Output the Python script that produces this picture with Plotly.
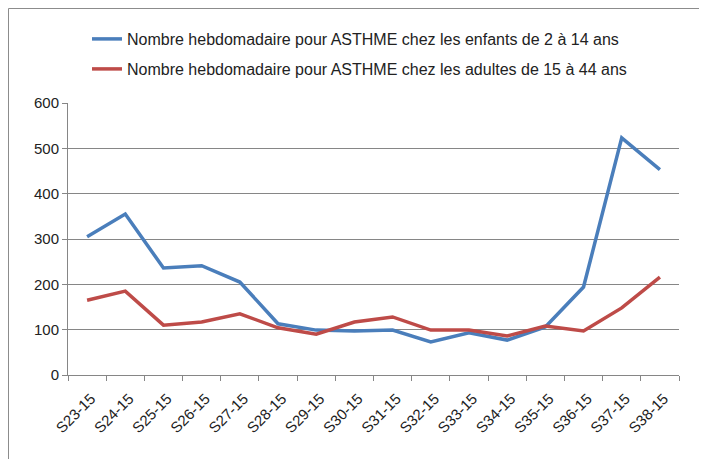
import plotly.graph_objects as go

weeks = ["S23-15", "S24-15", "S25-15", "S26-15", "S27-15", "S28-15", "S29-15", "S30-15",
         "S31-15", "S32-15", "S33-15", "S34-15", "S35-15", "S36-15", "S37-15", "S38-15"]
enfants = [305, 355, 236, 241, 205, 113, 99, 97, 99, 73, 93, 77, 106, 194, 523, 453]
adultes = [165, 185, 110, 117, 135, 104, 90, 117, 128, 99, 99, 86, 108, 97, 148, 216]

name_enfants = "Nombre hebdomadaire pour ASTHME chez les enfants de 2 à 14 ans"
name_adultes = "Nombre hebdomadaire pour ASTHME chez les adultes de 15 à 44 ans"

FONT = "Liberation Sans"
GRID = "#868686"

L, T, W, H = 60, 95, 611, 272
FW, FH = 707, 459

fig = go.Figure()
fig.add_trace(go.Scatter(x=weeks, y=enfants, mode="lines", name=name_enfants,
                         line=dict(color="#4A7EBB", width=3.5), legend="legend"))
fig.add_trace(go.Scatter(x=weeks, y=adultes, mode="lines", name=name_adultes,
                         line=dict(color="#BE4B48", width=3.5), legend="legend2"))

leg_common = dict(xanchor="left", yanchor="middle", bgcolor="rgba(0,0,0,0)",
                  font=dict(family=FONT, size=16, color="#222222"), itemwidth=30)

lx = (79 - L) / W
fig.update_layout(
    width=FW, height=FH,
    margin=dict(l=L, r=FW - L - W, t=T, b=FH - T - H, autoexpand=False),
    paper_bgcolor="white", plot_bgcolor="white",
    showlegend=True,
    legend=dict(x=lx, y=(T + H - 31) / H, **leg_common),
    legend2=dict(x=lx, y=(T + H - 61) / H, **leg_common),
    xaxis=dict(
        type="category", range=[-0.5, 15.5],
        showgrid=False, showline=True, linecolor=GRID, linewidth=1,
        ticks="outside", tickson="boundaries", ticklen=5, tickcolor=GRID,
        tickangle=-45, tickfont=dict(family=FONT, size=15, color="#222222"),
        ticklabelstandoff=8, ticklabelshift=4,
        automargin=False,
    ),
    yaxis=dict(
        range=[0, 600], dtick=100, showgrid=True, gridcolor=GRID, gridwidth=1,
        showline=True, linecolor=GRID, linewidth=1, zeroline=False,
        ticks="outside", ticklen=5, tickcolor=GRID,
        tickfont=dict(family=FONT, size=15, color="#222222"),
        automargin=False,
    ),
    shapes=[dict(type="rect", xref="paper", yref="paper",
                 x0=(0.5 - L) / W, x1=(693 - L) / W,
                 y0=(T + H - 452) / H, y1=(T + H - 0.5) / H,
                 line=dict(color="#8c8c8c", width=1), fillcolor="rgba(0,0,0,0)", layer="below")],
)

fig.write_html("out.html")
